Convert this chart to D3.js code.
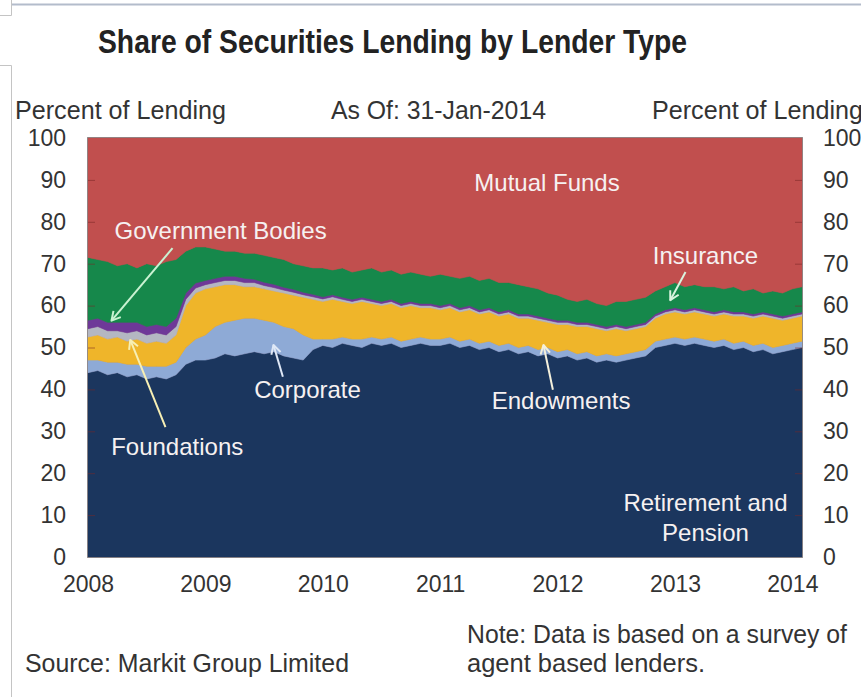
<!DOCTYPE html>
<html>
<head>
<meta charset="utf-8">
<script src="https://cdn.jsdelivr.net/npm/d3@7/dist/d3.min.js"></script>
<style>
  body { margin: 0; background: #fff; }
  svg { display: block; }
</style>
</head>
<body>
<div id="chart"></div>
<script>
// monthly observations, Jan 2008 .. Jan 2014 (last point = 31-Jan-2014)
const yearTicks = [2008, 2009, 2010, 2011, 2012, 2013, 2014];
const pctTicks = [0, 10, 20, 30, 40, 50, 60, 70, 80, 90, 100];

const retirement = [
  44, 44.5, 43.5, 44, 43, 43.5, 42.5, 43, 42.5, 43.5, 46, 47,
  47, 47.5, 48.5, 48, 48.5, 49, 48.5, 49, 48, 47.5, 47, 49.5,
  50.5, 50, 51, 50.5, 50, 51, 50.5, 51, 50, 50.5, 51, 50.5,
  50.5, 51, 50, 50.5, 49.5, 50, 49, 49.5, 48.5, 49, 48, 48.5,
  47.5, 48, 47, 47.5, 46.5, 47, 46.5, 47, 47.5, 48, 50, 50.5,
  51, 50.5, 51, 50.5, 50, 50.5, 49.5, 50, 49, 49.5, 48.5, 49, 49.5, 50
];
const corporate = [
  3, 2.5, 3, 2.5, 3, 2.5, 3, 2.5, 3, 3, 4, 5,
  6, 7.5, 7.5, 8.5, 8.5, 8, 8, 7, 7, 7, 6, 2.5,
  1.5, 2, 1.5, 1.5, 2, 1.5, 1.5, 1.5, 1.5, 1.5, 1.5, 1.5,
  1.5, 1.5, 1.5, 1.5, 1.5, 1.5, 1.5, 1.5, 1.5, 1.5, 1.5, 1.5,
  1.5, 1.5, 1.5, 1.5, 1.5, 1.5, 1.5, 1.5, 1.5, 1.5, 1.5, 1.5,
  1.5, 1.5, 1.5, 1.5, 1.5, 1.5, 1.5, 1.5, 1.5, 1.5, 1.5, 1.5, 1.5, 1.5
];
const endowments = [
  5.5, 6, 5.5, 6, 5.5, 6, 5.5, 6, 5.5, 6.5, 10, 11,
  11, 9.5, 9, 8.5, 7.5, 7.5, 7.5, 7.5, 8, 8, 9, 9.5,
  9, 9.5, 8.5, 8.5, 9, 8, 8, 8, 8, 8, 7, 7.5,
  7, 7, 7, 7, 7, 7, 7, 7, 7, 6.5, 7, 6,
  6.5, 6, 6.5, 6, 6.5, 5.5, 6.5, 5.5, 5.5, 5.5, 5.5, 6,
  6, 6, 6, 6, 6, 6, 6.5, 6, 6.5, 6.5, 7, 6, 6, 6
];
const foundations = [
  2, 2, 2, 1.5, 2, 2, 2, 2, 2, 2, 1.5, 1.2,
  1, 1, 1, 1, 1, 1, 0.8, 0.8, 0.7, 0.7, 0.6, 0.6,
  0.6, 0.6, 0.5, 0.5, 0.5, 0.5, 0.5, 0.5, 0.5, 0.5, 0.5, 0.5,
  0.5, 0.5, 0.5, 0.5, 0.5, 0.5, 0.5, 0.5, 0.5, 0.5, 0.5, 0.5,
  0.5, 0.5, 0.5, 0.5, 0.5, 0.5, 0.5, 0.5, 0.5, 0.5, 0.5, 0.5,
  0.5, 0.5, 0.5, 0.5, 0.5, 0.5, 0.5, 0.5, 0.5, 0.5, 0.5, 0.5, 0.5, 0.5
];
const government = [
  2, 2, 2, 2, 2.5, 2, 2, 2, 2, 2, 1.5, 1.2,
  1, 1, 1, 1, 1, 0.8, 0.8, 0.8, 0.7, 0.7, 0.6, 0.6,
  0.5, 0.5, 0.5, 0.5, 0.5, 0.5, 0.5, 0.5, 0.5, 0.5, 0.5, 0.5,
  0.5, 0.5, 0.5, 0.5, 0.5, 0.5, 0.5, 0.5, 0.5, 0.5, 0.5, 0.5,
  0.5, 0.5, 0.5, 0.5, 0.5, 0.5, 0.5, 0.5, 0.5, 0.5, 0.5, 0.5,
  0.5, 0.5, 0.5, 0.5, 0.5, 0.5, 0.5, 0.5, 0.5, 0.5, 0.5, 0.5, 0.5, 0.5
];
const insurance = [
  15, 14, 14.5, 13.5, 14, 13, 15, 14, 15.5, 14, 10, 8.6,
  8, 7, 6, 6, 6, 6.2, 6.4, 6.4, 6.6, 6.1, 6.3, 6.3,
  6.9, 5.9, 7, 6.5, 6.5, 7.5, 7, 7, 7, 7, 7, 6.5,
  7.5, 6.5, 7, 7, 7, 7, 7, 6.5, 7, 6.5, 6.5, 6,
  6, 5, 5, 5.5, 5, 5, 5.5, 6, 6, 6, 5.5, 5.5,
  6, 5.5, 5.5, 5.5, 6, 5, 6, 5, 6, 4.5, 5.5, 5.5, 6, 6
];
const mutualFunds = [
  28.5, 29, 29.5, 30.5, 30, 31, 30, 30.5, 29.5, 29, 27, 26,
  26, 26.5, 27, 27, 27.5, 27.5, 28, 28.5, 29, 30, 30.5, 31,
  31, 31.5, 31, 32, 31.5, 31, 32, 31.5, 32.5, 32, 32.5, 33,
  32.5, 33, 33.5, 33, 34, 33.5, 34.5, 34.5, 35, 35.5, 36, 37,
  37.5, 38.5, 39, 38.5, 39.5, 40, 39, 39, 38.5, 38, 36.5, 35.5,
  34.5, 35.5, 35, 35.5, 35.5, 36, 35.5, 36.5, 36, 37, 36.5, 37, 36, 35.5
];

const series = [
  { key: "retirement", values: retirement, color: "#1b365e" },
  { key: "corporate", values: corporate, color: "#8eaad6" },
  { key: "endowments", values: endowments, color: "#efb52a" },
  { key: "foundations", values: foundations, color: "#b4b7c2" },
  { key: "government", values: government, color: "#6e3898" },
  { key: "insurance", values: insurance, color: "#16884b" },
  { key: "mutualFunds", values: mutualFunds, color: "#c14f4e" }
];

// time position of each observation, as fractional years
const times = retirement.map((d, i) => i < 73 ? 2008 + i / 12 : 2014 + 30 / 365);

// in-plot labels, anchored in data coordinates (year, percent)
const labels = [
  { text: "Mutual Funds", t: 2011.91, v: 87.4 },
  { text: "Government Bodies", t: 2009.13, v: 75.9 },
  { text: "Insurance", t: 2013.26, v: 69.9 },
  { text: "Corporate", t: 2009.87, v: 37.9 },
  { text: "Endowments", t: 2012.03, v: 35.3 },
  { text: "Foundations", t: 2008.76, v: 24.3 },
  { text: "Retirement and", t: 2013.26, v: 11.0 },
  { text: "Pension", t: 2013.26, v: 3.8 }
];
const arrows = [
  { from: [2008.72, 73.7], to: [2008.20, 56.4], color: "#c9f2d2" },
  { from: [2008.66, 31.0], to: [2008.36, 51.8], color: "#f7efb4" },
  { from: [2009.66, 43.0], to: [2009.58, 50.6], color: "#dfe8f6" },
  { from: [2011.96, 39.9], to: [2011.88, 50.6], color: "#f4f0dc" },
  { from: [2013.09, 68.0], to: [2012.96, 61.3], color: "#d9f3df" }
];

const width = 861, height = 697;
const plot = { left: 88, right: 802, top: 138, bottom: 557 };

const svg = d3.select("#chart").append("svg")
  .attr("width", width)
  .attr("height", height);

// page frame bits
svg.append("line").attr("x1", 11).attr("x2", 861).attr("y1", 4.5).attr("y2", 4.5)
  .attr("stroke", "#b3bccb").attr("stroke-width", 2);
svg.append("path").attr("d", "M0,15.5H11.5V0").attr("fill", "none").attr("stroke", "#c4c4c4");
svg.append("path").attr("d", "M0,65.5H11.5V697").attr("fill", "none").attr("stroke", "#c4c4c4");

const x = d3.scaleLinear().domain([2008, 2014 + 30 / 365]).range([plot.left, plot.right]);
const y = d3.scaleLinear().domain([0, 100]).range([plot.bottom, plot.top]);

const rows = times.map((t, i) => {
  const r = { t };
  series.forEach(s => r[s.key] = s.values[i]);
  return r;
});

const stack = d3.stack().keys(series.map(s => s.key));
const layers = stack(rows);

const area = d3.area()
  .x(d => x(d.data.t))
  .y0(d => y(d[0]))
  .y1(d => y(d[1]));

svg.append("rect")
  .attr("x", plot.left).attr("y", plot.top)
  .attr("width", plot.right - plot.left).attr("height", plot.bottom - plot.top)
  .attr("fill", "#c14f4e");

svg.append("g").selectAll("path")
  .data(layers)
  .enter().append("path")
  .attr("d", area)
  .attr("fill", (d, i) => series[i].color)
  .attr("stroke", (d, i) => series[i].color)
  .attr("stroke-width", 0.6);

svg.append("rect")
  .attr("x", plot.left - 0.5).attr("y", plot.top - 0.5)
  .attr("width", plot.right - plot.left + 1).attr("height", plot.bottom - plot.top + 1)
  .attr("fill", "none")
  .attr("stroke", "#6e6464")
  .attr("stroke-opacity", 0.7);

// axes
const tickFont = "'Liberation Sans', Arial, Helvetica, sans-serif";

const leftAxis = svg.append("g")
  .attr("transform", `translate(${plot.left},0)`)
  .call(d3.axisLeft(y).tickValues(pctTicks).tickSizeInner(-7).tickSizeOuter(0).tickPadding(22));
const rightAxis = svg.append("g")
  .attr("transform", `translate(${plot.right},0)`)
  .call(d3.axisRight(y).tickValues(pctTicks).tickSizeInner(-7).tickSizeOuter(0).tickPadding(21));
const bottomAxis = svg.append("g")
  .attr("transform", `translate(0,${plot.bottom})`)
  .call(d3.axisBottom(x).tickValues(yearTicks).tickFormat(d3.format("d")).tickSize(0).tickPadding(19));

[leftAxis, rightAxis, bottomAxis].forEach(g => {
  g.select(".domain").remove();
  g.selectAll("text")
    .style("font-family", tickFont)
    .style("font-size", "23px")
    .attr("fill", "#333");
});
[leftAxis, rightAxis].forEach(g => {
  g.selectAll(".tick line").attr("stroke", "#7a2626").attr("stroke-opacity", 0.55);
  g.selectAll(".tick").filter(d => d === 0 || d === 100).select("line").remove();
});

// titles and notes
const narrow = "'Liberation Sans Narrow', 'Arial Narrow', 'Liberation Sans', Arial, sans-serif";
const addText = (txt, tx, ty, size, len, bold) => svg.append("text")
  .attr("x", tx).attr("y", ty)
  .attr("textLength", len)
  .attr("lengthAdjust", "spacingAndGlyphs")
  .style("font-family", narrow)
  .style("font-size", size + "px")
  .style("font-weight", bold ? "bold" : "normal")
  .attr("fill", bold ? "#222" : "#333")
  .text(txt);

addText("Share of Securities Lending by Lender Type", 98, 53, 33, 589, true);
addText("Percent of Lending", 15, 119, 25, 211);
addText("As Of: 31-Jan-2014", 331, 119, 25, 215);
addText("Percent of Lending", 652, 119, 25, 211);
addText("Note: Data is based on a survey of", 467, 643, 25, 380);
addText("agent based lenders.", 467, 672, 25, 238);
addText("Source: Markit Group Limited", 25, 672, 25, 324);

// annotation arrows
const arrowG = svg.append("g");
arrows.forEach(a => {
  const x1 = x(a.from[0]), y1 = y(a.from[1]);
  const x2 = x(a.to[0]), y2 = y(a.to[1]);
  const ang = Math.atan2(y2 - y1, x2 - x1);
  const hl = 10, spread = 0.5;
  const h1 = [x2 - hl * Math.cos(ang - spread), y2 - hl * Math.sin(ang - spread)];
  const h2 = [x2 - hl * Math.cos(ang + spread), y2 - hl * Math.sin(ang + spread)];
  arrowG.append("line")
    .attr("x1", x1).attr("y1", y1).attr("x2", x2).attr("y2", y2)
    .attr("stroke", a.color).attr("stroke-width", 2);
  arrowG.append("path")
    .attr("d", `M${h1}L${x2},${y2}L${h2}`)
    .attr("fill", "none")
    .attr("stroke", a.color).attr("stroke-width", 2)
    .attr("stroke-linejoin", "round");
});

// in-plot labels
svg.append("g").selectAll("text")
  .data(labels)
  .enter().append("text")
  .attr("x", d => x(d.t))
  .attr("y", d => y(d.v))
  .attr("text-anchor", "middle")
  .style("font-family", tickFont)
  .style("font-size", "24px")
  .attr("fill", "#f6f1f1")
  .text(d => d.text);
</script>
</body>
</html>
